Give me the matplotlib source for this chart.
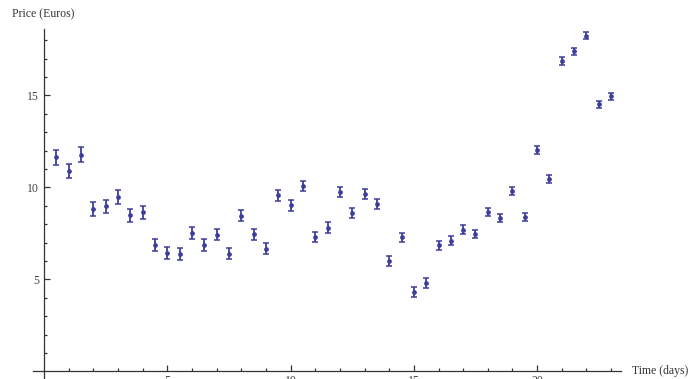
import matplotlib
matplotlib.use("Agg")
import matplotlib.pyplot as plt
from matplotlib.ticker import FixedLocator

# Observed prices sampled every half day
days = [0.5, 1.0, 1.5, 2.0, 2.5, 3.0, 3.5, 4.0, 4.5, 5.0,
        5.5, 6.0, 6.5, 7.0, 7.5, 8.0, 8.5, 9.0, 9.5, 10.0,
        10.5, 11.0, 11.5, 12.0, 12.5, 13.0, 13.5, 14.0, 14.5, 15.0,
        15.5, 16.0, 16.5, 17.0, 17.5, 18.0, 18.5, 19.0, 19.5, 20.0,
        20.5, 21.0, 21.5, 22.0, 22.5, 23.0]
price = [11.64, 10.90, 11.78, 8.83, 8.98, 9.48, 8.50, 8.65, 6.86, 6.46,
         6.40, 7.53, 6.86, 7.44, 6.40, 8.47, 7.46, 6.68, 9.59, 9.03,
         10.08, 7.32, 7.82, 9.76, 8.61, 9.65, 9.09, 5.99, 7.29, 4.32,
         4.81, 6.86, 7.10, 7.71, 7.47, 8.67, 8.33, 9.79, 8.38, 12.04,
         10.45, 16.88, 17.40, 18.25, 14.52, 14.96]
error = [0.42, 0.40, 0.40, 0.36, 0.36, 0.36, 0.35, 0.35, 0.33, 0.33,
         0.33, 0.32, 0.32, 0.31, 0.31, 0.31, 0.30, 0.30, 0.30, 0.29,
         0.29, 0.28, 0.28, 0.28, 0.27, 0.27, 0.26, 0.26, 0.26, 0.25,
         0.25, 0.25, 0.24, 0.24, 0.23, 0.23, 0.23, 0.22, 0.22, 0.22,
         0.21, 0.21, 0.20, 0.20, 0.19, 0.19]

x_major = [5, 10, 15, 20]
y_major = [5, 10, 15]
x_end = 23.4
y_end = 18.6

point_color = "#3d3d9c"
axis_color = "#333333"
label_font = "Liberation Serif"

fig = plt.figure(figsize=(6.9, 3.79), dpi=100)
ax = fig.add_axes([0, 0, 1, 1])
ax.set_xlim(-1.785, 26.2)
ax.set_ylim(-0.41, 20.19)

ax.errorbar(days, price, yerr=error, fmt="o", color=point_color,
            markersize=2.4, elinewidth=1.3, capsize=2.3, capthick=1.1,
            ecolor=point_color, zorder=3)

# Axes crossing at the origin, no frame
for side in ("top", "right"):
    ax.spines[side].set_visible(False)
ax.spines["left"].set_position(("data", 0))
ax.spines["bottom"].set_position(("data", 0))
ax.spines["left"].set_bounds(-0.41, y_end)
ax.spines["bottom"].set_bounds(-0.45, x_end)
for side in ("left", "bottom"):
    ax.spines[side].set_color(axis_color)
    ax.spines[side].set_linewidth(0.9)

# Unit minor ticks only along the drawn part of each axis
x_minor = [v for v in range(1, int(x_end) + 1) if v not in x_major]
y_minor = [v for v in range(1, int(y_end) + 1) if v not in y_major]
ax.set_xticks(x_major)
ax.set_yticks(y_major)
ax.xaxis.set_minor_locator(FixedLocator(x_minor))
ax.yaxis.set_minor_locator(FixedLocator(y_minor))
ax.tick_params(which="both", direction="in", color=axis_color, width=0.9)
ax.tick_params(which="major", length=4.5)
ax.tick_params(which="minor", length=2.5)
ax.tick_params(axis="x", which="major", pad=2.6)
ax.tick_params(axis="y", which="major", pad=3.5)
ax.set_xticklabels([str(v) for v in x_major], fontfamily=label_font,
                   fontsize=8.5, color="#444444")
ax.set_yticklabels([str(v) for v in y_major], fontfamily=label_font,
                   fontsize=8.5, color="#444444")

ax.text(-1.3, 19.4, "Price (Euros)", fontfamily=label_font, fontsize=8.5,
        color="#333333", ha="left", va="center")
ax.text(23.85, 0.0, "Time (days)", fontfamily=label_font, fontsize=8.5,
        color="#333333", ha="left", va="center")

fig.savefig("out.png", dpi=100)
